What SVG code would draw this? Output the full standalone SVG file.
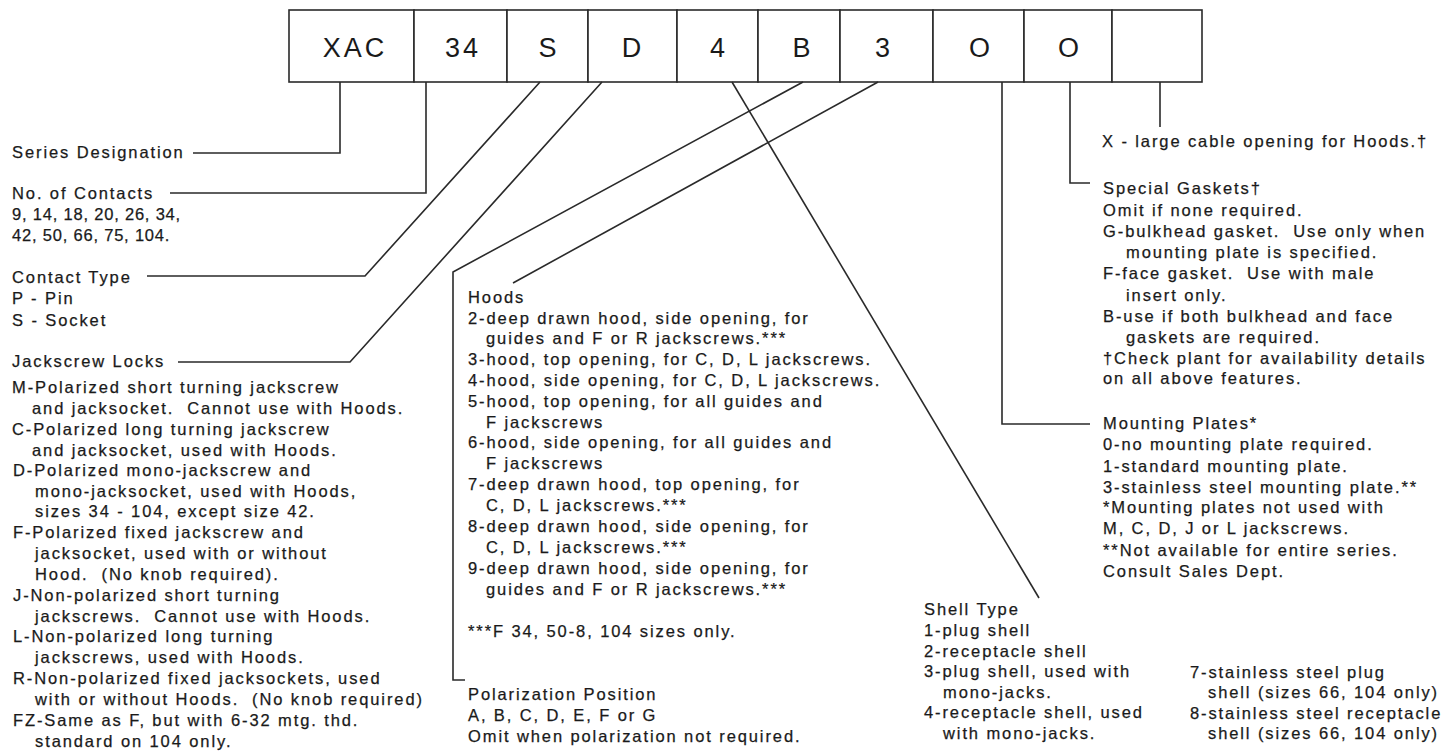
<svg xmlns="http://www.w3.org/2000/svg" width="1456" height="752" viewBox="0 0 1456 752">
<style>
.bg{fill:#ffffff}
.box{fill:#ffffff;stroke:#2a2a2a;stroke-width:1.6}
.code{font-family:"Liberation Sans",Arial,sans-serif;font-size:27px;letter-spacing:3px;fill:#1a1a1a;text-anchor:middle}
.t{font-family:"Liberation Sans",Arial,sans-serif;font-size:16.5px;letter-spacing:1.9px;fill:#1a1a1a;stroke:#1a1a1a;stroke-width:0.25;white-space:pre}
.n{letter-spacing:0.8px}
.ln{fill:none;stroke:#2a2a2a;stroke-width:1.6}
</style>
<rect class="bg" x="0" y="0" width="1456" height="752"/>

<g id="code-boxes">
<g id="box-xac"><rect class="box" x="289" y="10" width="125" height="72"/><text class="code" x="355" y="57">XAC</text></g>
<g id="box-34"><rect class="box" x="414" y="10" width="93" height="72"/><text class="code" x="463" y="57">34</text></g>
<g id="box-s"><rect class="box" x="507" y="10" width="81" height="72"/><text class="code" x="549" y="57">S</text></g>
<g id="box-d"><rect class="box" x="588" y="10" width="89" height="72"/><text class="code" x="633" y="57">D</text></g>
<g id="box-4"><rect class="box" x="677" y="10" width="81" height="72"/><text class="code" x="719" y="57">4</text></g>
<g id="box-b"><rect class="box" x="758" y="10" width="82" height="72"/><text class="code" x="803" y="57">B</text></g>
<g id="box-3"><rect class="box" x="840" y="10" width="93" height="72"/><text class="code" x="884" y="57">3</text></g>
<g id="box-o1"><rect class="box" x="933" y="10" width="91" height="72"/><text class="code" x="981" y="57">O</text></g>
<g id="box-o2"><rect class="box" x="1024" y="10" width="88" height="72"/><text class="code" x="1070" y="57">O</text></g>
<g id="box-blank"><rect class="box" x="1112" y="10" width="90" height="72"/></g>
</g>

<g id="connectors">
<path class="ln" d="M340 82 V153 H193"/>
<path class="ln" d="M426 82 V193 H170"/>
<path class="ln" d="M540 82 L365 276 H147"/>
<path class="ln" d="M602 82 L350 362 H178"/>
<path class="ln" d="M803 82 L453 272 V680 H465"/>
<path class="ln" d="M878 82 L513 283"/>
<path class="ln" d="M732 82 L1039 598"/>
<path class="ln" d="M1002 82 V424 H1090"/>
<path class="ln" d="M1070 82 V183 H1090"/>
<path class="ln" d="M1160 82 V127"/>
</g>

<g id="series-designation"><text class="t" x="12" y="158">Series Designation</text></g>

<g id="no-of-contacts">
<text class="t" x="12" y="199">No. of Contacts</text>
<text class="t n" x="12" y="220">9, 14, 18, 20, 26, 34,</text>
<text class="t n" x="12" y="241">42, 50, 66, 75, 104.</text>
</g>

<g id="contact-type">
<text class="t" x="12" y="283">Contact Type</text>
<text class="t" x="12" y="304">P - Pin</text>
<text class="t" x="12" y="326">S - Socket</text>
</g>

<g id="jackscrew-locks">
<text class="t" x="12" y="367">Jackscrew Locks</text>
<text class="t" x="12" y="393">M-Polarized short turning jackscrew</text>
<text class="t" x="32" y="414">and jacksocket.  Cannot use with Hoods.</text>
<text class="t" x="12" y="435">C-Polarized long turning jackscrew</text>
<text class="t" x="32" y="456">and jacksocket, used with Hoods.</text>
<text class="t" x="13" y="476">D-Polarized mono-jackscrew and</text>
<text class="t" x="35" y="497">mono-jacksocket, used with Hoods,</text>
<text class="t" x="35" y="517">sizes 34 - 104, except size 42.</text>
<text class="t" x="13" y="538">F-Polarized fixed jackscrew and</text>
<text class="t" x="35" y="559">jacksocket, used with or without</text>
<text class="t" x="35" y="580">Hood.  (No knob required).</text>
<text class="t" x="13" y="601">J-Non-polarized short turning</text>
<text class="t" x="35" y="622">jackscrews.  Cannot use with Hoods.</text>
<text class="t" x="13" y="642">L-Non-polarized long turning</text>
<text class="t" x="35" y="663">jackscrews, used with Hoods.</text>
<text class="t" x="13" y="684">R-Non-polarized fixed jacksockets, used</text>
<text class="t" x="35" y="705">with or without Hoods.  (No knob required)</text>
<text class="t" x="13" y="726">FZ-Same as F, but with 6-32 mtg. thd.</text>
<text class="t" x="35" y="747">standard on 104 only.</text>
</g>

<g id="hoods">
<text class="t" x="468" y="303">Hoods</text>
<text class="t" x="468" y="324">2-deep drawn hood, side opening, for</text>
<text class="t" x="486" y="344">guides and F or R jackscrews.***</text>
<text class="t" x="468" y="365">3-hood, top opening, for C, D, L jackscrews.</text>
<text class="t" x="468" y="386">4-hood, side opening, for C, D, L jackscrews.</text>
<text class="t" x="468" y="407">5-hood, top opening, for all guides and</text>
<text class="t" x="486" y="428">F jackscrews</text>
<text class="t" x="468" y="448">6-hood, side opening, for all guides and</text>
<text class="t" x="486" y="469">F jackscrews</text>
<text class="t" x="468" y="490">7-deep drawn hood, top opening, for</text>
<text class="t" x="486" y="511">C, D, L jackscrews.***</text>
<text class="t" x="468" y="532">8-deep drawn hood, side opening, for</text>
<text class="t" x="486" y="553">C, D, L jackscrews.***</text>
<text class="t" x="468" y="574">9-deep drawn hood, side opening, for</text>
<text class="t" x="486" y="595">guides and F or R jackscrews.***</text>
<text class="t" x="468" y="637">***F 34, 50-8, 104 sizes only.</text>
</g>

<g id="polarization-position">
<text class="t" x="468" y="700">Polarization Position</text>
<text class="t" x="468" y="721">A, B, C, D, E, F or G</text>
<text class="t" x="468" y="742">Omit when polarization not required.</text>
</g>

<g id="large-cable-opening">
<text class="t" x="1102" y="147">X - large cable opening for Hoods.†</text>
</g>

<g id="special-gaskets">
<text class="t" x="1103" y="194">Special Gaskets†</text>
<text class="t" x="1103" y="216">Omit if none required.</text>
<text class="t" x="1103" y="237">G-bulkhead gasket.  Use only when</text>
<text class="t" x="1126" y="258">mounting plate is specified.</text>
<text class="t" x="1103" y="279">F-face gasket.  Use with male</text>
<text class="t" x="1126" y="301">insert only.</text>
<text class="t" x="1103" y="322">B-use if both bulkhead and face</text>
<text class="t" x="1126" y="343">gaskets are required.</text>
<text class="t" x="1103" y="364">†Check plant for availability details</text>
<text class="t" x="1103" y="384">on all above features.</text>
</g>

<g id="mounting-plates">
<text class="t" x="1103" y="429">Mounting Plates*</text>
<text class="t" x="1103" y="450">0-no mounting plate required.</text>
<text class="t" x="1103" y="472">1-standard mounting plate.</text>
<text class="t" x="1103" y="493">3-stainless steel mounting plate.**</text>
<text class="t" x="1103" y="513">*Mounting plates not used with</text>
<text class="t" x="1103" y="534">M, C, D, J or L jackscrews.</text>
<text class="t" x="1103" y="556">**Not available for entire series.</text>
<text class="t" x="1103" y="577">Consult Sales Dept.</text>
</g>

<g id="shell-type">
<text class="t" x="924" y="615">Shell Type</text>
<text class="t" x="924" y="636">1-plug shell</text>
<text class="t" x="924" y="657">2-receptacle shell</text>
<text class="t" x="924" y="677">3-plug shell, used with</text>
<text class="t" x="943" y="698">mono-jacks.</text>
<text class="t" x="924" y="718">4-receptacle shell, used</text>
<text class="t" x="943" y="739">with mono-jacks.</text>
<text class="t" x="1190" y="678">7-stainless steel plug</text>
<text class="t" x="1208" y="698">shell (sizes 66, 104 only)</text>
<text class="t" x="1190" y="719">8-stainless steel receptacle</text>
<text class="t" x="1208" y="739">shell (sizes 66, 104 only)</text>
</g>
</svg>
